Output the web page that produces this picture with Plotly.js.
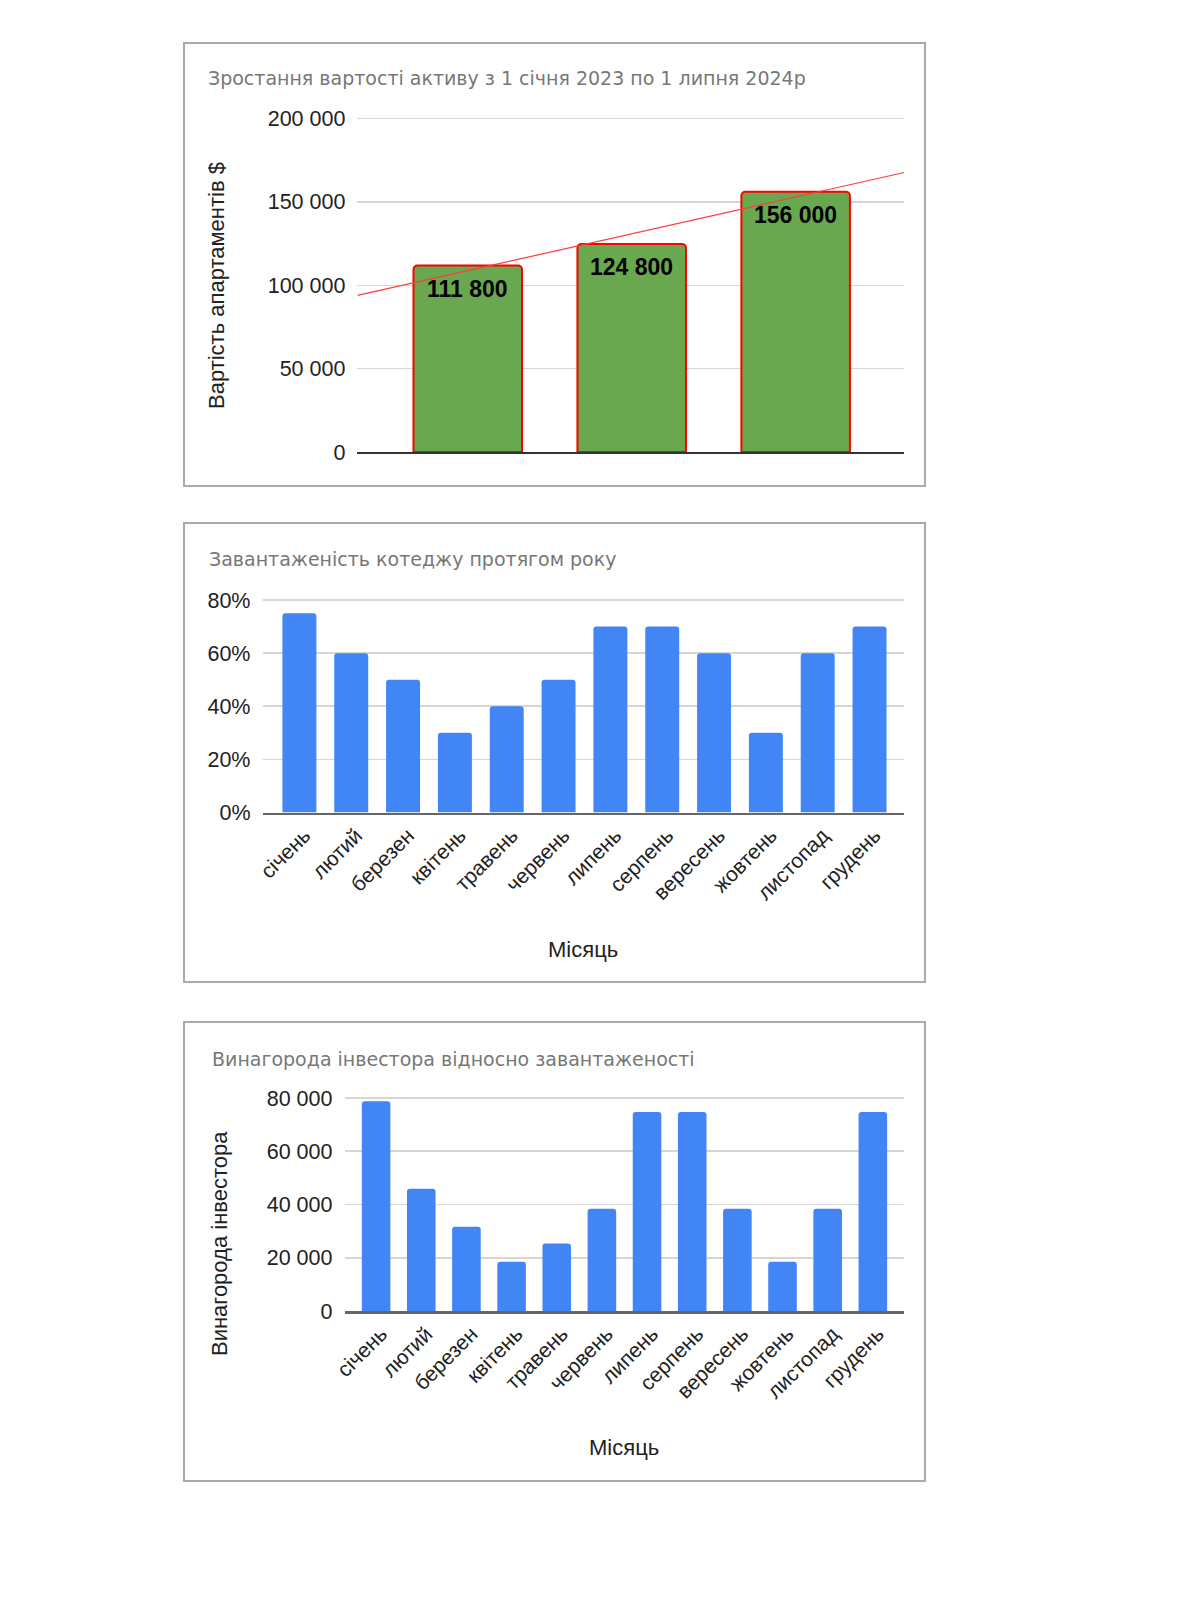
<!DOCTYPE html>
<html><head><meta charset="utf-8">
<script src="https://cdn.plot.ly/plotly-3.0.1.min.js"></script>
<style>html,body{margin:0;padding:0;background:#fff}#chart{width:1200px;height:1600px}</style>
</head><body><div id="chart"></div>
<script>
// ---- data ----
const assetPeriods = ['1 січня 2023', '1 січня 2024', '1 липня 2024'];
const assetValues = [111800, 124800, 156000];
const assetTicks = [0, 50000, 100000, 150000, 200000];

const months = ['січень','лютий','березен','квітень','травень','червень','липень','серпень','вересень','жовтень','листопад','грудень'];
const occupancyPct = [75, 60, 50, 30, 40, 50, 70, 70, 60, 30, 60, 70];
const occupancyTicks = [0, 20, 40, 60, 80];

const investorReward = [78800, 45900, 31600, 18500, 25400, 38400, 74700, 74700, 38400, 18500, 38400, 74700];
const rewardTicks = [0, 20000, 40000, 60000, 80000];

const titles = [
  'Зростання вартості активу з 1 січня 2023 по 1 липня 2024р',
  'Завантаженість котеджу протягом року',
  'Винагорода інвестора відносно завантаженості'
];
const yTitles = ['Вартість апартаментів $', 'Винагорода інвестора'];
const xTitle = 'Місяць';

// ---- helpers ----
const W = 1200, H = 1600;
const px = v => v / W;
const py = v => 1 - v / H;
const FONT = 'Liberation Sans, Arial, sans-serif';
const TFONT = 'DejaVu Sans, Liberation Sans, sans-serif';
const TXT = '#222222';
const EXT = 1.005; // small headroom so the top gridline is drawn
const topPx = (base, top) => base - (base - top) * EXT;
const fmtSpace = v => String(v).replace(/\B(?=(\d{3})+(?!\d))/g, ' ');

// least-squares trendline over bar positions
const idx = assetValues.map((_, i) => i);
const n = idx.length;
const mx = idx.reduce((a, b) => a + b, 0) / n;
const my = assetValues.reduce((a, b) => a + b, 0) / n;
let sxy = 0, sxx = 0;
idx.forEach((x, i) => { sxy += (x - mx) * (assetValues[i] - my); sxx += (x - mx) * (x - mx); });
const slope = sxy / sxx, intercept = my - slope * mx;
const x1Range = [-0.673, 2.662];

const traces = [
  {
    type: 'bar', x: idx, y: assetValues, xaxis: 'x', yaxis: 'y', width: 0.662,
    marker: { color: '#6aa84f', line: { color: '#ff0000', width: 2 }, cornerradius: 4 },
    showlegend: false
  },
  {
    type: 'scatter', mode: 'lines', x: x1Range, y: x1Range.map(x => intercept + slope * x),
    xaxis: 'x', yaxis: 'y', line: { color: '#ff3b3b', width: 1.2 }, showlegend: false
  },
  {
    type: 'bar', x: months, y: occupancyPct, xaxis: 'x2', yaxis: 'y2', width: 0.655,
    marker: { color: '#4285f4', cornerradius: 3 }, showlegend: false
  },
  {
    type: 'bar', x: months, y: investorReward, xaxis: 'x3', yaxis: 'y3', width: 0.633,
    marker: { color: '#4285f4', cornerradius: 3 }, showlegend: false
  }
];

const yCommon = {
  showgrid: true, gridcolor: '#d6d6d6', gridwidth: 1.5, zeroline: false, showline: false,
  ticks: '', ticklabelstandoff: 11, tickmode: 'array', tickfont: { family: FONT, size: 21.5, color: TXT }
};
const xCommon = {
  showgrid: false, zeroline: false, showline: true, linecolor: '#666666', linewidth: 2.5, ticks: ''
};

const annotations = [];
// chart titles
[[206, 78, 0], [207, 559, 1], [210, 1059, 2]].forEach(([x, y, i]) => {
  annotations.push({ xref: 'paper', yref: 'paper', x: px(x), y: py(y), xanchor: 'left', yanchor: 'middle',
    text: titles[i], showarrow: false, font: { family: TFONT, size: 19, color: '#777777' } });
});
// y axis titles
annotations.push({ xref: 'paper', yref: 'paper', x: px(217), y: py(286), textangle: -90, xanchor: 'center', yanchor: 'middle',
  text: yTitles[0], showarrow: false, font: { family: FONT, size: 22, color: TXT } });
annotations.push({ xref: 'paper', yref: 'paper', x: px(219), y: py(1244), textangle: -90, xanchor: 'center', yanchor: 'middle',
  text: yTitles[1], showarrow: false, font: { family: FONT, size: 22, color: TXT } });
// x axis titles
annotations.push({ xref: 'paper', yref: 'paper', x: px(583), y: py(949), xanchor: 'center', yanchor: 'middle',
  text: xTitle, showarrow: false, font: { family: FONT, size: 22, color: TXT } });
annotations.push({ xref: 'paper', yref: 'paper', x: px(624), y: py(1447), xanchor: 'center', yanchor: 'middle',
  text: xTitle, showarrow: false, font: { family: FONT, size: 22, color: TXT } });
// data labels on chart 1
idx.forEach((x, i) => {
  annotations.push({ xref: 'x', yref: 'y', x: x, y: assetValues[i], yshift: -23, xanchor: 'center', yanchor: 'middle',
    text: fmtSpace(assetValues[i]), showarrow: false,
    font: { family: FONT, size: 23, color: '#000000', weight: 'bold' } });
});

const shapes = [[43, 486], [523, 982], [1022, 1481]].map(([t, b]) => ({
  type: 'rect', xref: 'paper', yref: 'paper', x0: px(184), x1: px(925), y0: py(b), y1: py(t),
  line: { color: '#a9a9a9', width: 2 }, fillcolor: 'rgba(0,0,0,0)', layer: 'below'
}));

const layout = {
  width: W, height: H, margin: { l: 0, r: 0, t: 0, b: 0 },
  paper_bgcolor: '#ffffff', plot_bgcolor: '#ffffff',
  font: { family: FONT, color: TXT },
  xaxis: Object.assign({}, xCommon, { domain: [px(357.4), px(904.2)], anchor: 'y', range: x1Range,
    showticklabels: false, tickmode: 'array', tickvals: idx, ticktext: assetPeriods, linecolor: '#333333', linewidth: 1.5 }),
  yaxis: Object.assign({}, yCommon, { domain: [py(452), py(topPx(452, 118.5))], anchor: 'x', range: [0, 200000 * EXT],
    tickvals: assetTicks, ticktext: assetTicks.map(fmtSpace) }),
  xaxis2: Object.assign({}, xCommon, { domain: [px(262.5), px(903.5)], anchor: 'y2', type: 'category',
    categoryarray: months, range: [-0.712, 11.655], tickangle: -45, ticklabelshift: 5,
    tickfont: { family: FONT, size: 21, color: TXT } }),
  yaxis2: Object.assign({}, yCommon, { domain: [py(812.5), py(topPx(812.5, 600))], anchor: 'x2', range: [0, 80 * EXT],
    tickvals: occupancyTicks, ticktext: occupancyTicks.map(v => v + '%') }),
  xaxis3: Object.assign({}, xCommon, { domain: [px(344.5), px(904)], anchor: 'y3', type: 'category',
    categoryarray: months, range: [-0.70, 11.69], tickangle: -45, ticklabelshift: 5,
    tickfont: { family: FONT, size: 21, color: TXT } }),
  yaxis3: Object.assign({}, yCommon, { domain: [py(1311), py(topPx(1311, 1098))], anchor: 'x3', range: [0, 80000 * EXT],
    tickvals: rewardTicks, ticktext: rewardTicks.map(fmtSpace) }),
  annotations: annotations,
  shapes: shapes
};

Plotly.newPlot('chart', traces, layout, { staticPlot: true, displayModeBar: false });
</script>
</body></html>
